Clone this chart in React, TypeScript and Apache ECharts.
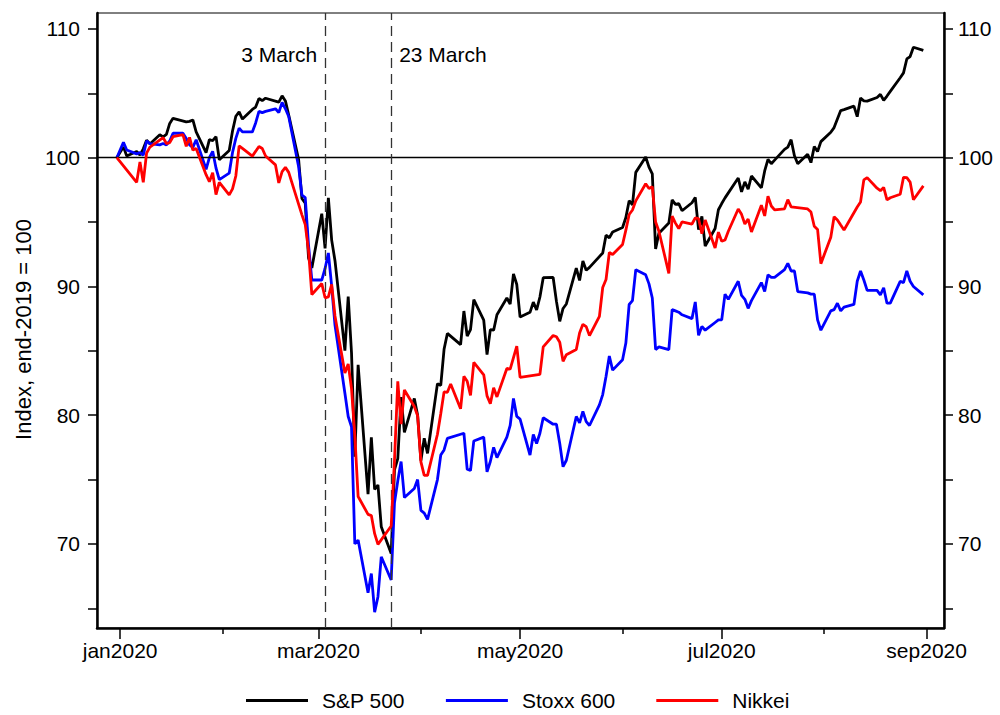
import React, { useEffect, useRef } from "react";
import * as echarts from "echarts";

// ---- Data (index, end-2019 = 100), one value per weekday from 31 Dec 2019 to 31 Aug 2020 ----
// null = market closed that day
const spx: (number | null)[] = [
  100,
  // Jan
  null, 100.84, 100.13, 100.48, 100.2, 100.69, 101.36, 101.07, 101.78, 101.62, 101.81, 102.66, 103.06, null, 102.79, 102.82, 102.93, 102.0, 100.4, 101.41, 101.32, 101.64, 99.84,
  // Feb
  100.56, 102.07, 103.22, 103.56, 103.0, 103.75, 103.93, 104.6, 104.43, 104.62, null, 104.32, 104.81, 104.41, 103.31, 99.85, 96.83, 96.46, 92.2, 91.44,
  // Mar
  95.65, 92.96, 96.88, 93.6, 92.0, 85.01, 89.21, 84.85, 76.78, 83.91, 73.86, 78.28, 74.23, 74.58, 71.34, 69.25, 75.75, 76.62, 81.41, 78.66, 81.3, 80.0,
  // Apr
  76.47, 78.21, 77.03, 82.45, 82.31, 85.12, 86.35, null, 85.48, 88.09, 86.15, 86.65, 88.97, 87.38, 84.7, 86.65, 86.6, 87.8, 89.1, 88.63, 90.98, 90.15,
  // May
  87.62, 87.99, 88.78, 88.17, 89.18, 90.68, 90.7, 88.84, 87.29, 88.29, 88.64, 91.43, 90.47, 91.98, 91.26, 91.48, null, 92.6, 93.98, 93.78, 94.23,
  // Jun
  94.58, 95.36, 96.66, 96.34, 98.86, 100.05, 99.27, 98.74, 92.92, 94.14, 94.92, 96.72, 96.37, 96.43, 95.88, 96.5, 96.92, 94.41, 95.45, 93.14, 94.5, 95.96,
  // Jul
  96.44, 96.88, null, 98.42, 97.35, 98.12, 97.56, 98.58, 97.66, 98.97, 99.87, 99.53, 99.81, 100.65, 100.82, 101.4, 100.15, 99.53, 100.27, 99.62, 100.86, 100.48, 101.25,
  // Aug
  101.98, 102.34, 103.0, 103.66, 103.73, 104.01, 103.19, 104.63, 104.42, 104.4, 104.68, 104.92, 104.46, 104.79, 105.15, 106.21, 106.59, 107.67, 107.86, 108.58, 108.34,
];

const stoxx: (number | null)[] = [
  100,
  // Jan
  null, 101.2, 100.6, 100.3, 100.4, 100.2, 101.3, 101.1, 101.0, 101.1, 101.0, 101.3, 101.9, 101.9, 101.5, 101.0, 100.8, 101.4, 99.1, 100.0, 100.5, 99.2, 98.3,
  // Feb
  98.8, 100.4, 101.5, 102.3, 102.0, 102.0, 102.7, 103.6, 103.5, 103.6, 103.8, 103.5, 104.3, 103.8, 103.2, 99.3, 97.1, 96.9, 93.2, 90.5,
  // Mar
  90.5, 91.4, 92.6, 90.0, 87.0, 81.7, 79.9, 79.1, 70.0, 70.3, 66.2, 67.7, 64.7, 65.9, 69.0, 67.2, 73.2, 74.9, 76.4, 73.6, 74.3, 75.0,
  // Apr
  72.6, 72.4, 71.9, 75.0, 76.9, 77.3, 78.2, null, null, 78.6, 75.8, 75.7, 78.0, 78.3, 75.6, 76.4, 77.5, 76.7, 78.3, 79.2, 81.3, 79.9,
  // May
  79.7, 76.9, 78.5, 77.8, 78.6, 79.8, 79.3, 79.3, 77.8, 76.0, 76.5, 79.9, 79.4, 80.3, 79.5, 79.2, 80.8, 81.6, 83.0, 84.6, 83.5,
  // Jun
  84.3, 85.6, 88.6, 88.9, 91.3, 90.9, 90.2, 89.1, 85.1, 85.3, 85.1, 88.2, 88.1, 88.0, 87.8, 87.5, 88.8, 86.2, 86.9, 86.6, 87.2, 87.4,
  // Jul
  87.4, 89.4, 89.0, 90.4, 89.3, 89.0, 88.3, 88.9, 90.3, 89.6, 90.9, 90.7, 90.7, 91.3, 91.8, 91.2, 91.2, 89.6, 89.5, 89.4, 89.4, 87.4, 86.6,
  // Aug
  88.1, 88.2, 88.7, 88.1, 88.4, 88.6, 90.4, 91.2, 90.5, 89.7, 89.7, 89.35, 89.9, 88.7, 88.7, 90.4, 90.3, 91.2, 90.4, 90.0, 89.35,
];

const nikkei: (number | null)[] = [
  100,
  // Jan
  null, null, null, 98.09, 99.66, 98.09, 100.35, 100.82, null, 101.56, 101.1, 101.17, 101.63, 101.8, 100.88, 101.58, 100.59, 100.72, 98.68, 98.13, 98.83, 97.13, 98.09,
  // Feb
  97.11, 97.58, 98.58, 100.92, 100.73, 100.12, null, 100.87, 100.72, 100.13, 99.44, 98.04, 98.92, 99.25, 98.86, null, 95.56, 94.8, 92.78, 89.37,
  // Mar
  90.23, 89.12, 89.19, 90.16, 87.71, 83.27, 83.98, 82.07, 78.45, 73.68, 72.3, 72.2, 70.8, 69.97, null, 71.39, 76.48, 82.63, 79.3, 81.96, 80.68, 79.96,
  // Apr
  76.37, 75.32, 75.33, 78.52, 80.11, 81.81, 81.78, 82.42, 80.5, 83.02, 82.64, 81.54, 84.11, 83.14, 81.5, 80.9, 82.13, 81.42, 83.63, 83.58, null, 85.36,
  // May
  82.93, null, null, null, 83.17, 85.3, 86.19, 86.09, 85.67, 84.18, 84.7, 85.11, 86.38, 87.06, 86.88, 86.18, 87.68, 89.92, 90.54, 92.64, 92.48,
  // Jun
  93.26, 94.37, 95.59, 95.94, 96.65, 97.98, 97.61, 97.75, 95.0, 94.29, 91.02, 95.46, 94.92, 94.5, 95.02, 94.85, 95.32, 95.26, 94.1, 95.16, 92.98, 94.22,
  // Jul
  93.51, 93.61, 94.29, 96.02, 95.6, 94.85, 95.24, 94.23, 96.31, 95.48, 97.0, 96.25, 95.94, 96.03, 96.74, 96.18, null, null, 96.02, 95.78, 94.68, 94.43, 91.77,
  // Aug
  93.82, 95.42, 95.17, 94.77, 94.39, null, 96.17, 96.56, 98.28, 98.45, 97.63, 97.44, 97.69, 96.72, 96.89, 97.16, 98.48, 98.45, 98.11, 96.73, 97.81,
];

const seriesNames = ["S&P 500", "Stoxx 600", "Nikkei"];
const seriesColors = ["#000000", "#0000ff", "#ff0000"];

const yMajorTicks = [70, 80, 90, 100, 110];
const yAllTicks = [65, 70, 75, 80, 85, 90, 95, 100, 105, 110];
const monthNames = ["jan", "feb", "mar", "apr", "may", "jun", "jul", "aug", "sep", "oct", "nov", "dec"];

const ts = (y: number, m: number, d: number, h = 0) => new Date(y, m - 1, d, h).getTime();

// x categories: every weekday from 31 Dec 2019 to 31 Aug 2020
function weekdays(): number[] {
  const out: number[] = [];
  const d = new Date(2019, 11, 31);
  const end = new Date(2020, 7, 31);
  while (d.getTime() <= end.getTime()) {
    const wd = d.getDay();
    if (wd !== 0 && wd !== 6) out.push(d.getTime());
    d.setDate(d.getDate() + 1);
  }
  return out;
}

const xMin = ts(2019, 12, 25);
const xMax = ts(2020, 9, 6, 6);
const labelMonths = [ts(2020, 1, 1), ts(2020, 3, 1), ts(2020, 5, 1), ts(2020, 7, 1), ts(2020, 9, 1)];
const otherMonths = [ts(2020, 2, 1), ts(2020, 4, 1), ts(2020, 6, 1), ts(2020, 8, 1)];
const eventDates = [
  { date: ts(2020, 3, 3), text: "3 March", side: "left" },
  { date: ts(2020, 3, 23), text: "23 March", side: "right" },
];
const eventLabelLevel = 108;

const FONT = "'Liberation Sans', Arial, Helvetica, sans-serif";

export default function App() {
  const ref = useRef<HTMLDivElement>(null);

  useEffect(() => {
    if (!ref.current) return;
    const chart = echarts.init(ref.current, null, { renderer: "svg" });
    const days = weekdays();
    const allSeries = [spx, stoxx, nikkei];

    const yAxisBase = (position: "left" | "right", margin: number) => ({
      type: "value",
      position,
      min: 63.47,
      max: 111.24,
      axisLine: { show: true, lineStyle: { color: "#000", width: 2.5 } },
      axisTick: { show: true, customValues: yAllTicks, length: 9, lineStyle: { color: "#000", width: 1.5 } },
      axisLabel: { customValues: yMajorTicks, fontSize: 21, color: "#000", margin, fontFamily: FONT },
      splitLine: { show: false },
    });

    const option: any = {
      animation: false,
      textStyle: { fontFamily: FONT },
      grid: { left: 97, right: 56, top: 13, bottom: 87, show: true, borderColor: "#000", borderWidth: 1, backgroundColor: "transparent" },
      legend: {
        data: seriesNames,
        left: 241,
        top: 685,
        icon: "rect",
        itemWidth: 62,
        itemHeight: 3,
        itemGap: 41,
        textStyle: { fontSize: 21, color: "#000", fontFamily: FONT, padding: [0, 0, 0, 9] },
      },
      xAxis: [
        {
          type: "value",
          min: xMin,
          max: xMax,
          axisLine: { show: true, onZero: false, lineStyle: { color: "#000", width: 2.5 } },
          axisTick: { show: true, customValues: labelMonths, length: 11, lineStyle: { color: "#000", width: 1.5 } },
          axisLabel: {
            customValues: labelMonths,
            fontSize: 21,
            color: "#000",
            margin: 12,
            fontFamily: FONT,
            formatter: (v: any) => {
              const val = typeof v === "object" && v !== null ? v.value : v;
              const d = new Date(val);
              return monthNames[d.getMonth()] + d.getFullYear();
            },
          },
          splitLine: { show: false },
        },
        {
          type: "value",
          min: xMin,
          max: xMax,
          position: "bottom",
          axisLine: { show: false, onZero: false },
          axisTick: { show: true, customValues: otherMonths, length: 6, lineStyle: { color: "#000", width: 1.5 } },
          axisLabel: { show: false },
          splitLine: { show: false },
        },
      ],
      yAxis: [
        {
          ...yAxisBase("left", 17),
          name: "Index, end-2019 = 100",
          nameLocation: "middle",
          nameGap: 62,
          nameTextStyle: { fontSize: 22, color: "#000", fontFamily: FONT, padding: [0, 18, 0, 0] },
        },
        yAxisBase("right", 14),
      ],
      series: seriesNames.map((name, si) => ({
        name,
        type: "line",
        xAxisIndex: 0,
        yAxisIndex: 0,
        data: days.map((d, i) => [d, allSeries[si][i]]),
        connectNulls: true,
        showSymbol: false,
        symbol: "none",
        lineStyle: { color: seriesColors[si], width: 2.8 },
        itemStyle: { color: seriesColors[si] },
        z: 3 + si,
        ...(si === 0
          ? {
              markLine: {
                silent: true,
                symbol: ["none", "none"],
                label: { show: false },
                data: [
                  { yAxis: 100, lineStyle: { type: "solid", color: "#000", width: 1.3 } },
                  ...eventDates.map((e) => ({
                    xAxis: e.date,
                    lineStyle: { type: [10, 6], color: "#333", width: 1.3 },
                  })),
                ],
              },
              markPoint: {
                silent: true,
                symbol: "circle",
                symbolSize: 0,
                data: eventDates.map((e) => ({
                  coord: [e.date, eventLabelLevel],
                  label: {
                    show: true,
                    formatter: e.text,
                    position: e.side,
                    distance: 8,
                    fontSize: 21,
                    color: "#000",
                    fontFamily: FONT,
                  },
                })),
              },
            }
          : {}),
      })),
    };

    chart.setOption(option);
    return () => chart.dispose();
  }, []);

  return <div ref={ref} style={{ position: "absolute", left: 0, top: 0, width: 1000, height: 715 }} />;
}
